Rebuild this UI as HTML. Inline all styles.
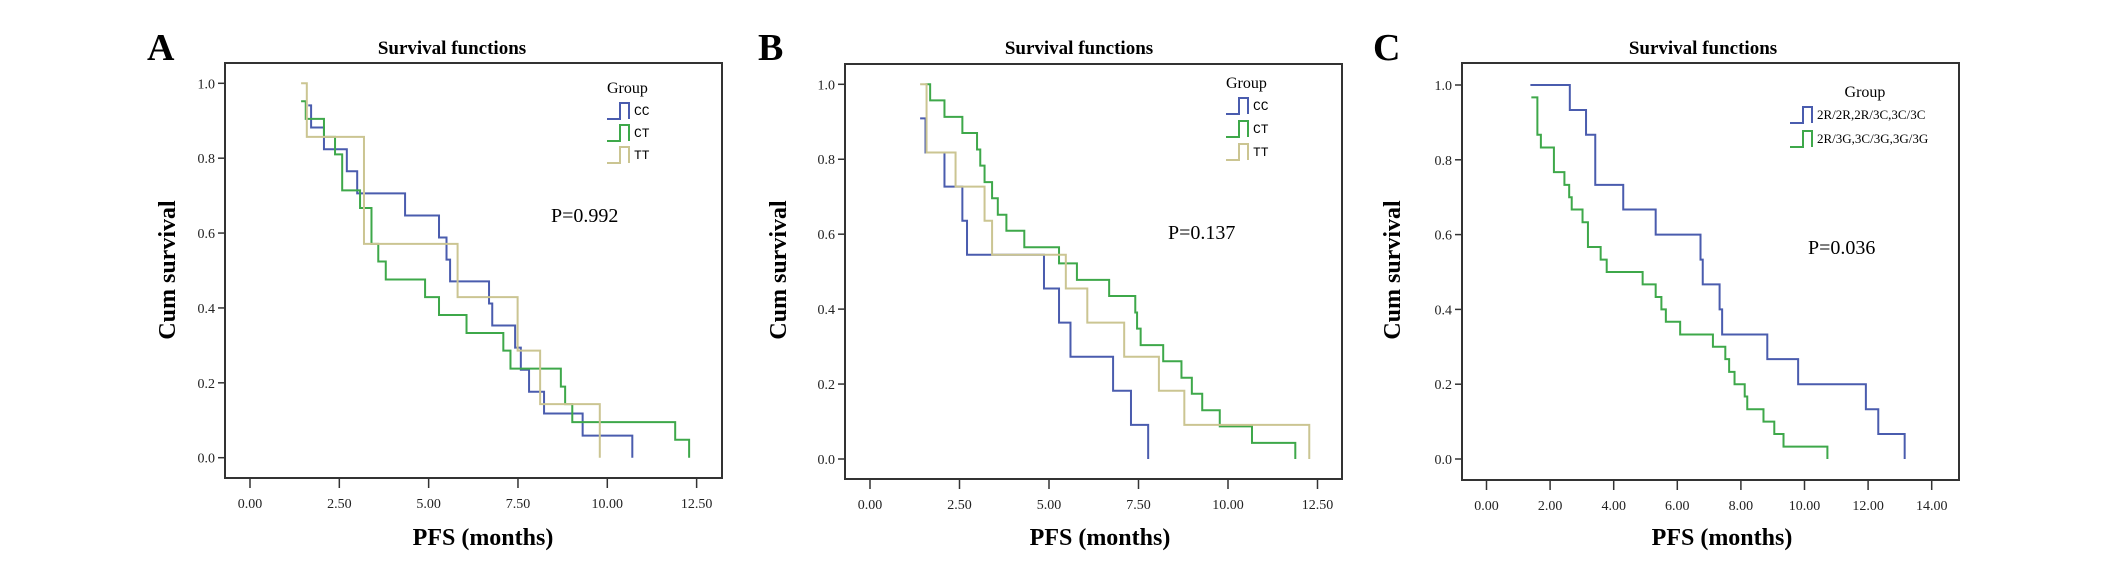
<!DOCTYPE html>
<html><head><meta charset="utf-8"><style>
html,body{margin:0;padding:0;background:#fff;}
svg{display:block;font-family:"Liberation Serif",serif;}
</style></head><body>
<svg id="fig" width="2126" height="567" viewBox="0 0 2126 567"></svg>
<script>
// Panel A data
const aTicksX = ["0.00","2.50","5.00","7.50","10.00","12.50"];
const aTickValsX = [0,2.5,5,7.5,10,12.5];
const aCCtime = [1.63,1.71,2.07,2.71,3.00,4.34,5.29,5.50,5.60,6.69,6.78,7.42,7.58,7.81,8.23,9.31,10.70];
const aCCsurv = [0.941,0.882,0.824,0.765,0.706,0.647,0.588,0.529,0.471,0.412,0.353,0.294,0.235,0.176,0.118,0.059,0];
const aCTtime = [1.43,1.56,2.07,2.38,2.58,3.08,3.40,3.59,3.80,4.90,5.29,6.06,7.09,7.29,8.70,8.82,9.02,11.90,12.29];
const aCTsurv = [0.952,0.905,0.857,0.810,0.714,0.667,0.571,0.524,0.476,0.429,0.381,0.333,0.286,0.238,0.190,0.143,0.095,0.048,0];
const aTTtime = [1.43,1.59,3.19,5.81,7.49,8.12,9.79];
const aTTsurv = [1.0,0.857,0.571,0.429,0.286,0.143,0];
// Panel B data
const bCCtime = [1.40,1.55,2.08,2.58,2.71,4.86,5.28,5.60,6.79,7.29,7.77];
const bCCsurv = [0.909,0.818,0.727,0.636,0.545,0.455,0.364,0.273,0.182,0.091,0];
const bCTtime = [1.55,1.68,2.08,2.58,2.99,3.08,3.20,3.41,3.57,3.81,4.31,5.28,5.78,6.68,7.41,7.46,7.56,8.19,8.70,8.99,9.28,9.77,10.67,11.88];
const bCTsurv = [1.0,0.957,0.913,0.870,0.826,0.783,0.739,0.696,0.652,0.609,0.565,0.522,0.478,0.435,0.391,0.348,0.304,0.261,0.217,0.174,0.130,0.087,0.043,0];
const bTTtime = [1.40,1.58,2.39,3.20,3.41,5.47,6.07,7.10,8.07,8.78,12.27];
const bTTsurv = [1.0,0.818,0.727,0.636,0.545,0.455,0.364,0.273,0.182,0.091,0];
// Panel C data
const cTicksX = ["0.00","2.00","4.00","6.00","8.00","10.00","12.00","14.00"];
const cTickValsX = [0,2,4,6,8,10,12,14];
const cG1time = [1.38,2.62,3.13,3.42,4.30,5.32,6.73,6.80,7.33,7.41,8.83,9.80,11.93,12.32,13.15];
const cG1surv = [1.0,0.933,0.867,0.733,0.667,0.600,0.533,0.467,0.400,0.333,0.267,0.200,0.133,0.067,0];
const cG2time = [1.41,1.60,1.71,2.12,2.45,2.60,2.68,3.02,3.19,3.59,3.78,4.91,5.32,5.50,5.64,6.09,7.12,7.51,7.63,7.80,8.12,8.20,8.71,9.05,9.34,10.72];
const cG2surv = [0.967,0.867,0.833,0.767,0.733,0.700,0.667,0.633,0.567,0.533,0.500,0.467,0.433,0.400,0.367,0.333,0.300,0.267,0.233,0.200,0.167,0.133,0.100,0.067,0.033,0];
const yTicks = ["0.0","0.2","0.4","0.6","0.8","1.0"];
const yTickVals = [0,0.2,0.4,0.6,0.8,1.0];

const NS="http://www.w3.org/2000/svg";
const svg=document.getElementById('fig');
function mk(tag,attrs,parent,text){const e=document.createElementNS(NS,tag);for(const k in attrs)e.setAttribute(k,attrs[k]);if(text!==undefined)e.textContent=text;(parent||svg).appendChild(e);return e;}
const BLUE="#4a5cae",GREEN="#3ea84a",TAN="#cbc592";

function panel(p){
  const g=mk('g',{});
  
  
  const xs=t=>p.x0+t*p.pxPerMonth;
  const ys=s=>p.y0-s*(p.y0-p.y1);
  const lt=mk('text',{x:p.letterX,y:60,'font-size':38,'font-weight':'bold'},g,p.id.toUpperCase());
  
  
  const ti=mk('text',{x:p.titleX,y:54,'font-size':19,'font-weight':'bold','text-anchor':'middle'},g,'Survival functions');
  
  
  const fr=mk('rect',{x:p.fl,y:p.ft,width:p.fr-p.fl,height:p.fb-p.ft,fill:'none',stroke:'#333','stroke-width':2},g);
  
  
  yTickVals.forEach((v,i)=>{
    const y=ys(v);
    const tk=mk('line',{x1:p.fl-7,x2:p.fl,y1:y,y2:y,stroke:'#333','stroke-width':1.5},g);
    
    
    const tl=mk('text',{x:p.fl-10,y:y+5,'font-size':14,'text-anchor':'end',fill:'#222'},g,yTicks[i]);
    
    
  });
  p.tickVals.forEach((v,i)=>{
    const x=xs(v);
    const tk=mk('line',{x1:x,x2:x,y1:p.fb,y2:p.fb+10,stroke:'#333','stroke-width':1.5},g);
    
    
    const tl=mk('text',{x:x,y:p.fb+30,'font-size':14,'text-anchor':'middle',fill:'#222'},g,p.ticks[i]);
    
    
  });
  const yt=mk('text',{x:0,y:0,'font-size':24,'font-weight':'bold','text-anchor':'middle',transform:`translate(${p.ytX},270) rotate(-90)`},g,'Cum survival');
  
  
  const xt=mk('text',{x:p.xtX,y:545,'font-size':24,'font-weight':'bold','text-anchor':'middle'},g,'PFS (months)');
  
  
  p.series.forEach(s=>{
    let d=`M${xs(s.t[0])},${ys(s.s[0])}`;
    for(let i=1;i<s.t.length;i++){d+=` H${xs(s.t[i])} V${ys(s.s[i])}`;}
    const pa=mk('path',{d:d,fill:'none',stroke:s.c,'stroke-width':2},g);
    
    
  });
  const lg=mk('g',{},g);
  
  
  const gt=mk('text',{x:p.lgX+p.groupDx,y:p.lgY,'font-size':16,'text-anchor':p.groupAnchor},lg,'Group');
  
  
  p.series.forEach((s,i)=>{
    const y=p.lgY+20+i*p.lgStep;
    const ent=mk('g',{},lg);
    
    
    mk('path',{d:`M${p.lgX},${y+6} H${p.lgX+13} V${y-10} H${p.lgX+22} V${y+6}`,fill:'none',stroke:s.c,'stroke-width':2},ent);
    mk('text',{x:p.lgX+27,y:y+2,'font-size':p.lgFont,'font-family':p.lgFam},ent,s.name);
  });
  const pv=mk('text',{x:p.pX,y:p.pY,'font-size':20},g,p.pText);
  
  
}

panel({id:'a',letterX:147,titleX:452,fl:225,fr:722,ft:63,fb:478,x0:250,pxPerMonth:35.73,y0:457.7,y1:83.3,
  ticks:aTicksX,tickVals:aTickValsX,ytX:175,xtX:483,lgX:607,lgY:93,lgStep:22,groupDx:0,groupAnchor:'start',lgFont:13,lgFam:'"Liberation Mono",monospace',
  pX:551,pY:222,pText:'P=0.992',
  series:[{name:'CC',t:aCCtime,s:aCCsurv,c:BLUE},{name:'CT',t:aCTtime,s:aCTsurv,c:GREEN},{name:'TT',t:aTTtime,s:aTTsurv,c:TAN}]});
panel({id:'b',letterX:758,titleX:1079,fl:845,fr:1342,ft:64,fb:479,x0:870,pxPerMonth:35.8,y0:459,y1:84.3,
  ticks:aTicksX,tickVals:aTickValsX,ytX:786,xtX:1100,lgX:1226,lgY:88,lgStep:23,groupDx:0,groupAnchor:'start',lgFont:13,lgFam:'"Liberation Mono",monospace',
  pX:1168,pY:239,pText:'P=0.137',
  series:[{name:'CC',t:bCCtime,s:bCCsurv,c:BLUE},{name:'CT',t:bCTtime,s:bCTsurv,c:GREEN},{name:'TT',t:bTTtime,s:bTTsurv,c:TAN}]});
panel({id:'c',letterX:1373,titleX:1703,fl:1462,fr:1959,ft:63,fb:480,x0:1486.5,pxPerMonth:31.8,y0:459,y1:85,
  ticks:cTicksX,tickVals:cTickValsX,ytX:1400,xtX:1722,lgX:1790,lgY:97,lgStep:24,groupDx:75,groupAnchor:'middle',lgFont:13,lgFam:'"Liberation Serif",serif',
  pX:1808,pY:254,pText:'P=0.036',
  series:[{name:'2R/2R,2R/3C,3C/3C',t:cG1time,s:cG1surv,c:BLUE},{name:'2R/3G,3C/3G,3G/3G',t:cG2time,s:cG2surv,c:GREEN}]});
</script>
</body></html>
